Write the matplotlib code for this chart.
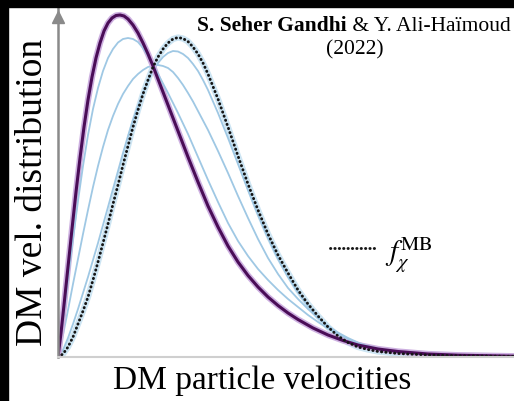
import matplotlib.pyplot as plt
from matplotlib.patches import Rectangle

plt.rcParams['mathtext.fontset'] = 'stix'

# velocities (arbitrary units) and distributions
v_purple = [0, 0.03, 0.06, 0.10, 0.14, 0.18, 0.22, 0.26, 0.30, 0.34,
            0.38, 0.42, 0.46, 0.50, 0.54, 0.58, 0.62, 0.66, 0.70, 0.75,
            0.80, 0.85, 0.90, 0.95, 1.00, 1.10, 1.20, 1.30, 1.40, 1.50,
            1.60, 1.70, 1.80, 1.90, 2.00, 2.10, 2.20, 2.30, 2.40, 2.55,
            2.70, 2.85, 3.00, 3.20, 3.40, 3.70, 4.00, 4.56]
f_purple = [0, 0.24, 0.52, 0.90, 1.28, 1.65, 1.99, 2.30, 2.57, 2.80,
            2.99, 3.14, 3.26, 3.34, 3.39, 3.415, 3.42, 3.41, 3.38, 3.32,
            3.24, 3.14, 3.03, 2.91, 2.78, 2.52, 2.26, 2.00, 1.75, 1.51,
            1.30, 1.11, 0.95, 0.815, 0.70, 0.60, 0.515, 0.44, 0.375, 0.29,
            0.22, 0.165, 0.12, 0.08, 0.055, 0.03, 0.018, 0.008]

v_grid = [0, 0.05, 0.10, 0.15, 0.20, 0.25, 0.30, 0.35, 0.40, 0.45,
          0.50, 0.55, 0.60, 0.65, 0.70, 0.75, 0.80, 0.85, 0.90, 0.95,
          1.00, 1.05, 1.10, 1.15, 1.20, 1.25, 1.30, 1.35, 1.40, 1.45,
          1.50, 1.6, 1.7, 1.8, 1.9, 2.0, 2.1, 2.2, 2.3, 2.4,
          2.5, 2.6, 2.7, 2.8, 2.9, 3.0, 3.1, 3.2, 3.4, 3.7,
          4.0, 4.56]

f_b1 = [0, 0.36, 0.78, 1.18, 1.56, 1.91, 2.22, 2.48, 2.69, 2.86,
        2.99, 3.08, 3.145, 3.18, 3.19, 3.18, 3.15, 3.09, 3.01, 2.92,
        2.83, 2.735, 2.64, 2.54, 2.44, 2.335, 2.23, 2.115, 2.00, 1.885,
        1.77, 1.55, 1.34, 1.16, 1.01, 0.88, 0.77, 0.67, 0.58, 0.50,
        0.42, 0.35, 0.285, 0.23, 0.18, 0.14, 0.11, 0.085, 0.05, 0.028,
        0.016, 0.007]

f_b2 = [0, 0.22, 0.47, 0.73, 0.98, 1.23, 1.47, 1.70, 1.91, 2.10,
        2.27, 2.41, 2.53, 2.63, 2.71, 2.78, 2.83, 2.87, 2.90, 2.915,
        2.92, 2.91, 2.89, 2.85, 2.79, 2.72, 2.64, 2.555, 2.46, 2.365,
        2.27, 2.06, 1.84, 1.61, 1.39, 1.18, 0.99, 0.83, 0.69, 0.58,
        0.48, 0.39, 0.31, 0.245, 0.19, 0.145, 0.11, 0.085, 0.05, 0.027,
        0.015, 0.007]

f_b3 = [0, 0.07, 0.19, 0.33, 0.48, 0.64, 0.80, 0.97, 1.14, 1.32,
        1.50, 1.68, 1.86, 2.04, 2.21, 2.37, 2.51, 2.64, 2.76, 2.86,
        2.94, 3.00, 3.04, 3.06, 3.055, 3.03, 2.99, 2.93, 2.86, 2.77,
        2.67, 2.44, 2.19, 1.93, 1.67, 1.42, 1.19, 0.98, 0.80, 0.645,
        0.51, 0.40, 0.30, 0.22, 0.155, 0.11, 0.08, 0.06, 0.036, 0.02,
        0.012, 0.006]

f_mb = [0, 0.03, 0.10, 0.20, 0.33, 0.46, 0.60, 0.77, 0.95, 1.14,
        1.33, 1.53, 1.72, 1.92, 2.11, 2.30, 2.47, 2.63, 2.77, 2.90,
        3.00, 3.08, 3.14, 3.18, 3.195, 3.185, 3.155, 3.10, 3.03, 2.94,
        2.83, 2.58, 2.30, 2.01, 1.73, 1.47, 1.23, 1.02, 0.84, 0.67,
        0.53, 0.41, 0.30, 0.21, 0.145, 0.10, 0.075, 0.055, 0.035, 0.02,
        0.012, 0.006]

W, H = 514, 401
fig = plt.figure(figsize=(W / 100, H / 100), dpi=100)
ax = fig.add_axes([58 / W, 44 / H, 456 / W, 357 / H])
ax.set_xlim(0, 4.56)
ax.set_ylim(0, 3.57)
ax.set_xticks([])
ax.set_yticks([])
for side in ['top', 'right']:
    ax.spines[side].set_visible(False)
ax.spines['left'].set_color('#8a8a8a')
ax.spines['left'].set_linewidth(1.8)
ax.spines['bottom'].set_color('#cfcfcf')
ax.spines['bottom'].set_linewidth(1.5)
ax.plot([0], [0.952], marker='^', ms=8, color='#8a8a8a', transform=ax.transAxes, clip_on=False)

blue = '#9fc8e4'
dots = dict(color='#151515', lw=2.1, linestyle=(0, (0.1, 1.4)), dash_capstyle='round')
line = dict(solid_joinstyle='round', solid_capstyle='round')
ax.plot(v_grid, f_mb, color='#cde5f3', lw=4.5, **line)
ax.plot(v_grid, f_b3, color=blue, lw=1.3, **line)
ax.plot(v_grid, f_b2, color=blue, lw=1.3, **line)
ax.plot(v_purple, f_purple, color='#cdb0e0', lw=4.5, **line)
ax.plot(v_grid, f_b1, color=blue, lw=1.3, **line)
ax.plot(v_purple, f_purple, color='#4a0d57', lw=2.2, **line)
ax.plot(v_grid, f_mb, **dots)

# legend entry
ax.plot([2.72, 3.17], [1.09, 1.09], **dots)
ax.text(3.27, 1.02, r'$f_\chi^{\mathrm{MB}}$', fontsize=21, va='center', ha='left')

serif = 'Liberation Serif'
t1 = fig.text(197 / W, 1 - 31 / H, 'S. Seher Gandhi', family=serif, weight='bold',
              fontsize=15.5, va='baseline', ha='left')
ax.annotate(' & Y. Ali-Haïmoud', xy=(1, 0), xycoords=t1, family=serif, fontsize=15.5,
            va='bottom', ha='left')
fig.text(355 / W, 1 - 50 / H, '(2022)', family=serif, fontsize=15.5, va='center', ha='center')

fig.text(33 / W, 1 - 192 / H, 'DM vel. distribution', family=serif, fontsize=27,
         rotation=90, va='center', ha='center')
fig.text(262 / W, 1 - 381 / H, 'DM particle velocities', family=serif, fontsize=24,
         va='center', ha='center')

fig.patches.append(Rectangle((0, 1 - 7 / H), 1, 7 / H, transform=fig.transFigure,
                             color='black', zorder=5))
fig.patches.append(Rectangle((0, 0), 8 / W, 1, transform=fig.transFigure,
                             color='black', zorder=5))

fig.savefig('out.png', dpi=100)
